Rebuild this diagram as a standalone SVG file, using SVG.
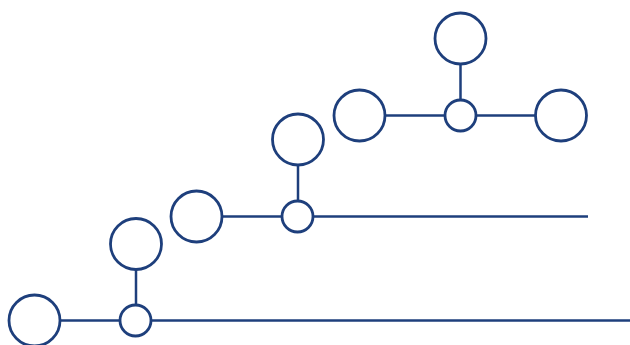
<svg xmlns="http://www.w3.org/2000/svg" width="630" height="345" viewBox="0 0 630 345">
<style>
.c{fill:#fff;stroke:#1e3f7c;stroke-width:2.8}
.l{stroke:#1e3f7c;stroke-width:2.5;fill:none}
</style>
<rect width="630" height="345" fill="#fff"/>
<g id="connectors">
<line class="l" x1="60" y1="320.5" x2="630" y2="320.5"/>
<line class="l" x1="136" y1="270" x2="136" y2="304"/>
<line class="l" x1="222" y1="216.5" x2="588" y2="216.5"/>
<line class="l" x1="298" y1="165" x2="298" y2="200"/>
<line class="l" x1="385" y1="115.5" x2="535" y2="115.5"/>
<line class="l" x1="460.5" y1="64" x2="460.5" y2="99"/>
</g>
<g id="n1"><circle class="c" cx="34.5" cy="320.5" r="25.5"/></g>
<g id="n2"><circle class="c" cx="135.5" cy="320.5" r="15.5"/></g>
<g id="n3"><circle class="c" cx="136" cy="244" r="25.5"/></g>
<g id="n4"><circle class="c" cx="196.5" cy="216.5" r="25.5"/></g>
<g id="n5"><circle class="c" cx="297.5" cy="216.5" r="15.5"/></g>
<g id="n6"><circle class="c" cx="298" cy="139.5" r="25.5"/></g>
<g id="n7"><circle class="c" cx="359.5" cy="115.5" r="25.5"/></g>
<g id="n8"><circle class="c" cx="460.5" cy="115.5" r="15.5"/></g>
<g id="n9"><circle class="c" cx="460.5" cy="38.5" r="25.5"/></g>
<g id="n10"><circle class="c" cx="561" cy="115.5" r="25.5"/></g>
</svg>
